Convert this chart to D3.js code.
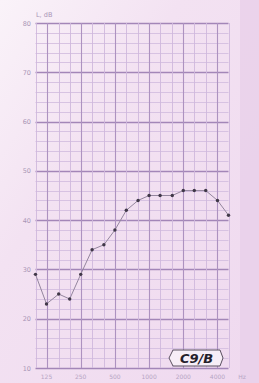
<!DOCTYPE html>
<html>
<head>
<meta charset="utf-8">
<script src="https://cdnjs.cloudflare.com/ajax/libs/d3/7.8.5/d3.min.js"></script>
<style>
  html, body { margin: 0; padding: 0; background: #f2e1f2; }
  svg { display: block; }
</style>
</head>
<body>
<div id="chartDiv"></div>
<script>
// third-octave bands, Hz
var freqs = [100, 125, 160, 200, 250, 315, 400, 500, 630, 800, 1000, 1250, 1600, 2000, 2500, 3150, 4000, 5000];
// level, dB
var levels = [29, 23, 25, 24, 29, 34, 35, 38, 42, 44, 45, 45, 45, 46, 46, 46, 44, 41];
var octaves = [125, 250, 500, 1000, 2000, 4000];
var octaveLabels = ["125", "250", "500", "1000", "2000", "4000"];
var dbTicks = [10, 20, 30, 40, 50, 60, 70, 80];

var W = 259, H = 383;
var svg = d3.select("#chartDiv").append("svg").attr("width", W).attr("height", H);

// paper
var defs = svg.append("defs");
var grad = defs.append("linearGradient").attr("id", "paper").attr("x1", 0).attr("y1", 0).attr("x2", 1).attr("y2", 1);
grad.append("stop").attr("offset", "0%").attr("stop-color", "#faf3f9");
grad.append("stop").attr("offset", "35%").attr("stop-color", "#f3e2f2");
grad.append("stop").attr("offset", "100%").attr("stop-color", "#efd9ef");
svg.append("rect").attr("width", W).attr("height", H).attr("fill", "url(#paper)");
svg.append("rect").attr("x", 240).attr("width", W - 240).attr("height", H).attr("fill", "#e9cfea").attr("opacity", 0.8);

var x = d3.scaleLog().domain([100, 5000]).range([35.5, 228.5]);
var y = d3.scaleLinear().domain([10, 80]).range([368, 23]);

var grid = svg.append("g");

// horizontal lines every 2 dB
grid.selectAll(".h").data(d3.range(10, 81, 2)).enter().append("line")
  .attr("x1", x(100)).attr("x2", x(5000))
  .attr("y1", function(d){ return Math.round(y(d)) + 0.5; })
  .attr("y2", function(d){ return Math.round(y(d)) + 0.5; })
  .attr("stroke", function(d){ return d % 10 == 0 ? "#a386b8" : "#d4bee0"; })
  .attr("stroke-width", function(d){ return d % 10 == 0 ? 1.3 : 0.9; });

// vertical lines at band centres
grid.selectAll(".v").data(freqs).enter().append("line")
  .attr("y1", y(80)).attr("y2", y(10))
  .attr("x1", function(d){ return Math.round(x(d)) + 0.5; })
  .attr("x2", function(d){ return Math.round(x(d)) + 0.5; })
  .attr("stroke", function(d){ return octaves.indexOf(d) >= 0 ? "#ad92c0" : "#cfb8dd"; })
  .attr("stroke-width", function(d){ return octaves.indexOf(d) >= 0 ? 1.1 : 0.9; });

// y labels
svg.selectAll(".yl").data(dbTicks).enter().append("text")
  .attr("x", 31).attr("y", function(d){ return y(d) + 2.5; })
  .attr("text-anchor", "end")
  .attr("font-family", "DejaVu Sans")
  .attr("font-size", 6.5)
  .attr("fill", "#a996b6")
  .text(function(d){ return d; });

svg.append("text").attr("x", 36).attr("y", 17)
  .attr("font-family", "DejaVu Sans").attr("font-size", 6.5).attr("fill", "#a996b6")
  .text("L, dB");

// x labels
svg.selectAll(".xl").data(octaves).enter().append("text")
  .attr("x", function(d){ return x(d); }).attr("y", 379)
  .attr("text-anchor", "middle")
  .attr("font-family", "DejaVu Sans")
  .attr("font-size", 6)
  .attr("fill", "#b6a5c4")
  .text(function(d, i){ return octaveLabels[i]; });
svg.append("text").attr("x", 242).attr("y", 379).attr("text-anchor", "middle")
  .attr("font-family", "DejaVu Sans").attr("font-size", 6).attr("fill", "#b6a5c4").text("Hz");

// curve
var line = d3.line().x(function(d, i){ return x(freqs[i]); }).y(function(d){ return y(d); });
svg.append("path").datum(levels).attr("d", line)
  .attr("fill", "none").attr("stroke", "#94869e").attr("stroke-width", 1);
svg.selectAll(".pt").data(levels).enter().append("circle")
  .attr("cx", function(d, i){ return x(freqs[i]); })
  .attr("cy", function(d){ return y(d); })
  .attr("r", 1.7).attr("fill", "#403848");

// stamp
var stamp = svg.append("g").attr("transform", "translate(169,350)");
stamp.append("path")
  .attr("d", "M4,0 L51,0 L54,8 L51,16 L4,16 L0,8 Z")
  .attr("fill", "#f7eef7").attr("stroke", "#5a5060").attr("stroke-width", 1);
stamp.append("text").attr("x", 27.5).attr("y", 13)
  .attr("text-anchor", "middle")
  .attr("font-family", "DejaVu Sans").attr("font-weight", "bold").attr("font-style", "italic")
  .attr("font-size", 13).attr("fill", "#25202a")
  .text("C9/B");
</script>
</body>
</html>
